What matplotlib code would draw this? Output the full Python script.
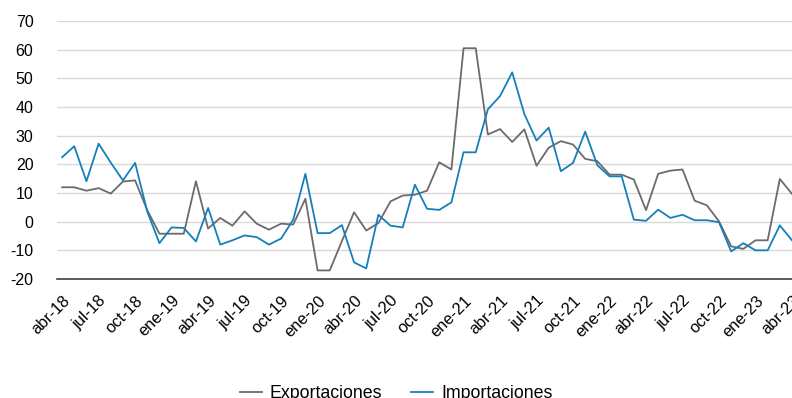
import matplotlib
matplotlib.use("Agg")
import matplotlib.pyplot as plt

plt.rcParams['font.family'] = ['Liberation Sans', 'DejaVu Sans']

months_es = ["ene", "feb", "mar", "abr", "may", "jun", "jul", "ago", "sep", "oct", "nov", "dic"]
# monthly periods from abr-18 to abr-23
periods = []
y, m = 2018, 3
for _ in range(61):
    periods.append(f"{months_es[m]}-{str(y)[2:]}")
    m += 1
    if m == 12:
        m = 0
        y += 1

exportaciones = [12.0, 12.0, 10.8, 11.7, 9.8, 14.0, 14.4, 4.0, -4.2, -4.2,
                 -4.2, 14.1, -2.4, 1.3, -1.4, 3.6, -0.7, -2.8, -0.7, -1.0,
                 8.0, -17.0, -17.0, -6.8, 3.3, -3.1, -0.5, 7.1, 9.1, 9.4,
                 10.8, 20.7, 18.2, 60.5, 60.5, 30.4, 32.3, 27.8, 32.2, 19.5,
                 25.8, 28.1, 26.9, 21.9, 21.1, 16.4, 16.4, 14.7, 4.0, 16.7,
                 17.8, 18.2, 7.3, 5.7, 0.1, -8.6, -9.5, -6.5, -6.5, 14.9, 9.7]

importaciones = [22.5, 26.3, 14.1, 27.2, 20.6, 14.4, 20.5, 3.5, -7.5, -2.0,
                 -2.2, -6.9, 4.8, -8.0, -6.5, -4.8, -5.4, -8.0, -5.9, 0.7,
                 16.7, -4.0, -4.0, -1.2, -14.2, -16.3, 2.4, -1.4, -2.0, 12.9,
                 4.5, 4.1, 6.7, 24.2, 24.2, 39.2, 43.8, 52.1, 37.5, 28.3,
                 32.8, 17.6, 20.5, 31.4, 19.7, 15.8, 15.8, 0.7, 0.3, 4.2,
                 1.3, 2.4, 0.5, 0.5, -0.2, -10.4, -7.5, -10.0, -10.0, -1.3, -6.5]

yticks = [-20, -10, 0, 10, 20, 30, 40, 50, 60, 70]

fig = plt.figure(figsize=(7.92, 3.98), dpi=100)
ax = fig.add_axes([57/792, 1 - 279/398, 1 - 57/792, (279 - 21)/398])

x = list(range(len(periods)))
ax.plot(x, exportaciones, color='#6b6b6b', lw=1.3, label='Exportaciones')
ax.plot(x, importaciones, color='#1480bb', lw=1.3, label='Importaciones')

ax.set_ylim(-20, 70)
ax.set_xlim(-0.42, 60)
ax.set_yticks(yticks)
ax.set_yticklabels([str(v) for v in yticks], fontsize=11.5)
ax.yaxis.grid(True, color='#d9d9d9', lw=1)
ax.set_axisbelow(True)
for s in ['top', 'right', 'left']:
    ax.spines[s].set_visible(False)
ax.spines['bottom'].set_color('#404040')
ax.spines['bottom'].set_linewidth(1.2)
ax.tick_params(axis='y', length=0, pad=17, colors='#000000')

tick_idx = list(range(0, 61, 3))
ax.set_xticks(tick_idx)
ax.set_xticklabels([periods[i] for i in tick_idx], rotation=45, ha='right',
                   rotation_mode='anchor', fontsize=11.8)
ax.tick_params(axis='x', length=0, pad=10)

fig.legend(loc='center', bbox_to_anchor=(0.5, 0.012), ncol=2, frameon=False,
           fontsize=12.8, handlelength=1.25, columnspacing=1.6, handletextpad=0.45)

fig.savefig('out.png', dpi=100)
